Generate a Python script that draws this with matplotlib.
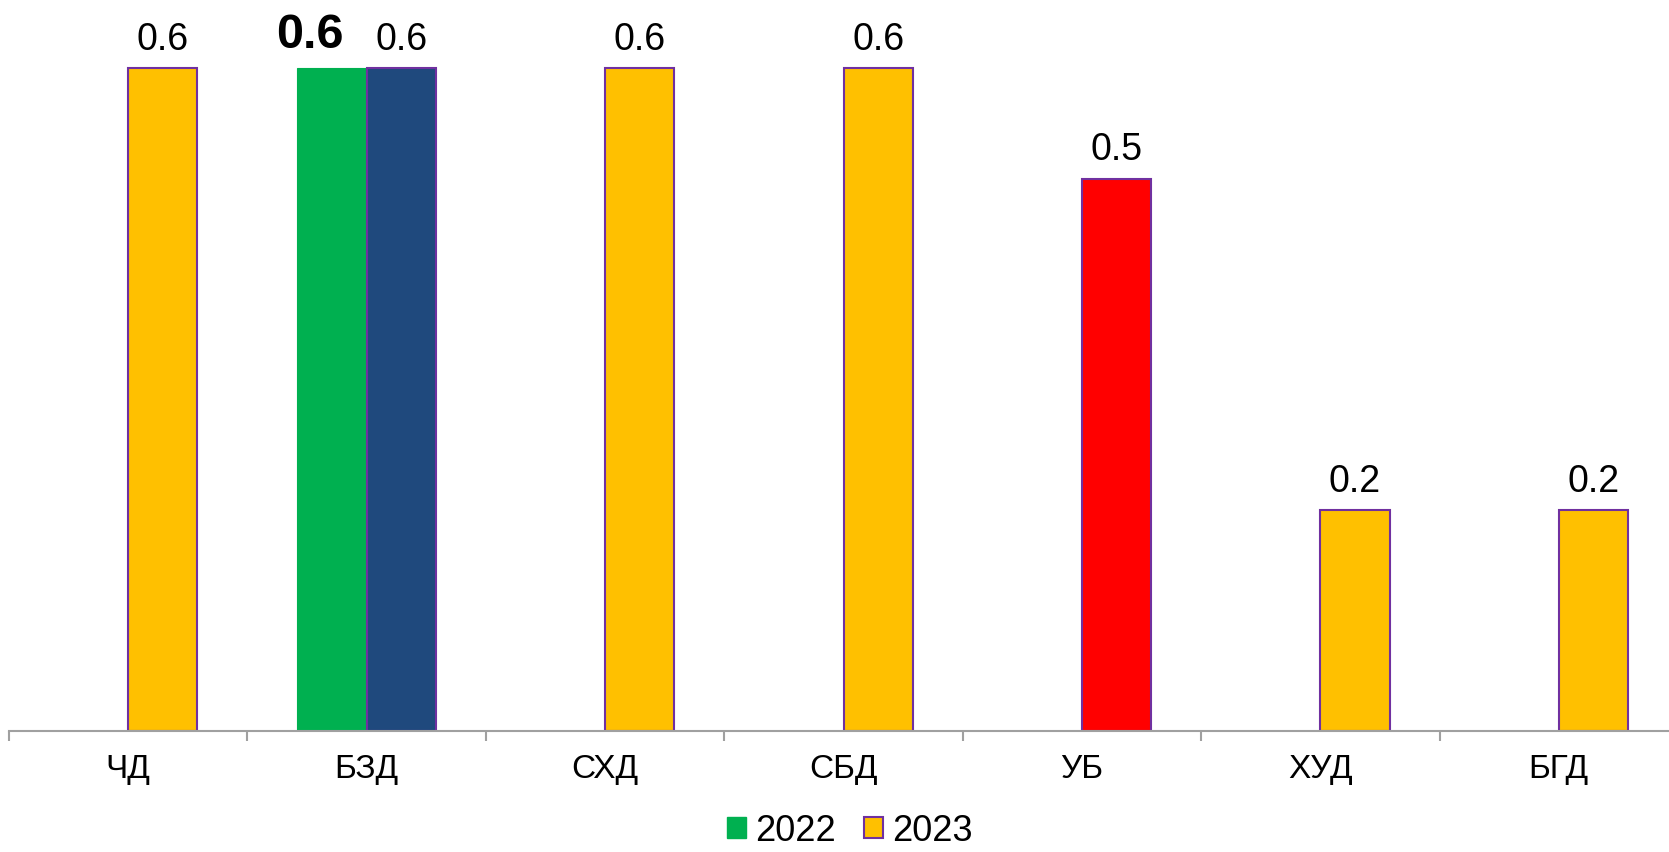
import matplotlib
matplotlib.use("Agg")
import matplotlib.pyplot as plt
import matplotlib.patches as mpatches
import numpy as np

categories = ["ЧД", "БЗД", "СХД", "СБД", "УБ", "ХУД", "БГД"]
values_2022 = [np.nan, 0.6, np.nan, np.nan, np.nan, np.nan, np.nan]
values_2023 = [0.6, 0.6, 0.6, 0.6, 0.5, 0.2, 0.2]
colors_2023 = ["#FFC000", "#1F497D", "#FFC000", "#FFC000", "#FF0000", "#FFC000", "#FFC000"]
color_2022 = "#00B050"
legend_labels = ["2022", "2023"]

plt.rcParams['font.family'] = ['Liberation Sans', 'DejaVu Sans']

W, H = 1669, 853
fig = plt.figure(figsize=(W / 100, H / 100), dpi=100)
ax_left, ax_right = 9, 1678
ax_bottom, ax_top = 732, 3
ax = fig.add_axes([ax_left / W, 1 - ax_bottom / H, (ax_right - ax_left) / W, (ax_bottom - ax_top) / H])

x = np.arange(len(categories))
bw = 0.29
edge = "#7030A0"
ax.bar(x - bw / 2, values_2022, bw, color=color_2022, edgecolor=color_2022, linewidth=0.8, zorder=2)
ax.bar(x + bw / 2, values_2023, bw, color=colors_2023, edgecolor=edge, linewidth=1.5, zorder=2)

ax.set_xlim(-0.5, len(categories) - 0.5)
ax.set_ylim(0, 0.6 * (ax_bottom - ax_top) / 663)

for xi, v in zip(x, values_2023):
    ax.annotate(f"{v:.1f}", (xi + bw / 2, v), xytext=(0, 13.7), textcoords="offset points",
                ha="center", va="baseline", fontsize=27)
for xi, v in zip(x, values_2022):
    if not np.isnan(v):
        ax.annotate(f"{v:.1f}", (xi - bw / 2, v), xytext=(-16, 15), textcoords="offset points",
                    ha="center", va="baseline", fontsize=35, fontweight="bold")

for s in ["top", "right", "left"]:
    ax.spines[s].set_visible(False)
ax.spines["bottom"].set_color("#A0A0A0")
ax.spines["bottom"].set_linewidth(1.5)
ax.set_yticks([])
ax.set_xticks(np.arange(-0.5, len(categories) + 0.5, 1.0))
ax.set_xticklabels([])
ax.tick_params(axis="x", length=7, width=1.5, color="#A0A0A0", direction="out")
ax.set_xticks(x, minor=True)
ax.set_xticklabels(categories, minor=True, fontsize=24)
ax.tick_params(axis="x", which="minor", length=0, pad=16)

handles = [mpatches.Patch(facecolor=color_2022, edgecolor=color_2022),
           mpatches.Patch(facecolor="#FFC000", edgecolor=edge, linewidth=1.5)]
fig.legend(handles, legend_labels, loc="center", bbox_to_anchor=(850 / W, 1 - 832 / H),
           ncol=2, frameon=False, fontsize=26, handlelength=0.52, handleheight=0.52,
           handletextpad=0.25, columnspacing=0.78, borderpad=0.2)

fig.savefig("out.png", dpi=100)
